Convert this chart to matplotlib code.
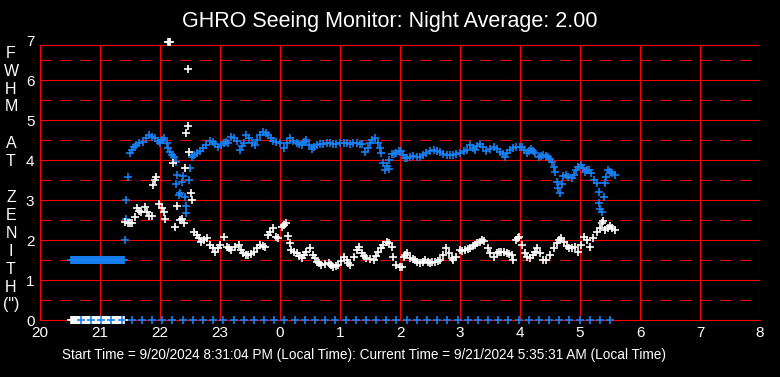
import matplotlib.pyplot as plt

plt.rcParams['font.family'] = ['Liberation Sans', 'DejaVu Sans']
plt.rcParams['lines.scale_dashes'] = False

# start-up readings (minutes after 20:00): blue sits at 1.5, white at 0
flat_min = [31, 32, 33, 34, 35, 36, 37, 38, 39, 40, 41, 42, 43, 44, 45, 46, 47, 48,
            49, 50, 51, 52, 53, 54, 55, 56, 57, 58, 59, 60, 61, 62, 63, 64, 65, 66,
            67, 68, 69, 70, 71, 72, 73, 74, 75, 76, 77, 78, 79, 80, 81, 82, 83, 84]
flat_blue = 1.5
flat_white = 0.0

# status marks along the bottom (minutes after 20:00)
zero_min = [41, 51, 61, 71, 82, 92, 102, 112, 122, 132, 143, 153, 163, 173,
            183, 194, 204, 214, 224, 234, 244, 255, 265, 275, 285, 295, 306,
            316, 326, 336, 346, 356, 367, 377, 387, 397, 407, 418, 428, 438,
            448, 458, 468, 479, 489, 499, 509, 519, 529, 540, 550, 560, 570]

# blue series (hour of night, value)
blue_t = [21.42, 21.43, 21.43, 21.47, 21.50, 21.53, 21.56, 21.60, 21.65, 21.72,
          21.77, 21.82, 21.87, 21.92, 21.96, 22.00, 22.04, 22.07, 22.11, 22.14,
          22.17, 22.20, 22.23, 22.27, 22.27, 22.28, 22.31, 22.33, 22.36, 22.39,
          22.42, 22.44, 22.44, 22.49, 22.50, 22.53, 22.57, 22.61, 22.66, 22.72,
          22.77, 22.83, 22.88, 22.92, 22.97, 23.02, 23.06, 23.10, 23.14, 23.19,
          23.23, 23.28, 23.33, 23.37, 23.40, 23.44, 23.48, 23.53, 23.58, 23.62,
          23.67, 23.71, 23.76, 23.80, 23.85, 23.89, 23.94, 24.00, 24.06, 24.11,
          24.17, 24.22, 24.28, 24.32, 24.36, 24.40, 24.44, 24.49, 24.53, 24.57,
          24.61, 24.67, 24.72, 24.78, 24.83, 24.89, 24.94, 25.00, 25.06, 25.11,
          25.17, 25.22, 25.28, 25.33, 25.36, 25.42, 25.47, 25.50, 25.53, 25.58,
          25.64, 25.67, 25.69, 25.72, 25.75, 25.78, 25.81, 25.82, 25.86, 25.90,
          25.94, 25.98, 26.01, 26.05, 26.08, 26.11, 26.16, 26.22, 26.28, 26.33,
          26.39, 26.44, 26.50, 26.56, 26.61, 26.67, 26.72, 26.78, 26.83, 26.89,
          26.94, 27.00, 27.06, 27.11, 27.17, 27.21, 27.25, 27.29, 27.33, 27.39,
          27.44, 27.50, 27.56, 27.61, 27.67, 27.71, 27.75, 27.79, 27.83, 27.89,
          27.94, 28.00, 28.03, 28.07, 28.11, 28.15, 28.19, 28.22, 28.25, 28.31,
          28.35, 28.39, 28.44, 28.47, 28.50, 28.53, 28.57, 28.58, 28.61, 28.64,
          28.67, 28.70, 28.72, 28.76, 28.80, 28.86, 28.90, 28.94, 28.97, 29.01,
          29.05, 29.08, 29.12, 29.15, 29.19, 29.23, 29.28, 29.31, 29.32, 29.34,
          29.37, 29.40, 29.42, 29.44, 29.47, 29.50, 29.53, 29.58]
blue_v = [2.00, 2.52, 3.00, 3.57, 4.17, 4.25, 4.33, 4.38, 4.42, 4.46,
          4.55, 4.62, 4.58, 4.54, 4.48, 4.43, 4.50, 4.54, 4.42, 4.30,
          4.21, 4.12, 4.08, 3.96, 3.40, 3.62, 3.12, 3.17, 3.46, 3.60,
          3.08, 2.67, 2.85, 3.50, 3.79, 4.07, 4.12, 4.17, 4.22, 4.29,
          4.38, 4.48, 4.44, 4.40, 4.33, 4.38, 4.43, 4.45, 4.42, 4.58,
          4.55, 4.48, 4.25, 4.35, 4.42, 4.62, 4.55, 4.42, 4.38, 4.50,
          4.62, 4.71, 4.68, 4.62, 4.55, 4.48, 4.44, 4.42, 4.30, 4.42,
          4.54, 4.48, 4.42, 4.40, 4.38, 4.45, 4.50, 4.38, 4.27, 4.32,
          4.38, 4.40, 4.40, 4.42, 4.42, 4.40, 4.40, 4.42, 4.43, 4.42,
          4.40, 4.42, 4.42, 4.40, 4.40, 4.21, 4.29, 4.42, 4.50, 4.54,
          4.42, 4.30, 4.18, 3.92, 3.75, 3.85, 3.77, 4.00, 4.14, 4.15,
          4.17, 4.22, 4.23, 4.12, 4.04, 4.04, 4.08, 4.10, 4.08, 4.07,
          4.12, 4.17, 4.22, 4.25, 4.22, 4.21, 4.16, 4.12, 4.12, 4.12,
          4.15, 4.17, 4.22, 4.25, 4.38, 4.30, 4.25, 4.35, 4.40, 4.32,
          4.23, 4.28, 4.33, 4.28, 4.21, 4.15, 4.08, 4.18, 4.25, 4.30,
          4.33, 4.33, 4.32, 4.25, 4.17, 4.22, 4.27, 4.22, 4.17, 4.07,
          4.10, 4.12, 4.10, 4.08, 4.02, 3.96, 3.83, 3.71, 3.46, 3.29,
          3.17, 3.40, 3.60, 3.62, 3.58, 3.54, 3.62, 3.76, 3.83, 3.88,
          3.80, 3.71, 3.76, 3.75, 3.67, 3.50, 3.42, 3.21, 2.92, 2.78,
          2.71, 3.08, 3.42, 3.57, 3.75, 3.70, 3.67, 3.62]

# white series (hour of night, value)
white_t = [21.42, 21.46, 21.50, 21.53, 21.58, 21.61, 21.65, 21.69, 21.75, 21.78,
           21.81, 21.86, 21.89, 21.92, 21.94, 21.99, 22.03, 22.06, 22.09, 22.13,
           22.15, 22.17, 22.22, 22.25, 22.29, 22.33, 22.36, 22.40, 22.42, 22.44,
           22.46, 22.47, 22.49, 22.51, 22.53, 22.57, 22.61, 22.65, 22.69, 22.74,
           22.78, 22.83, 22.88, 22.92, 22.96, 23.00, 23.06, 23.11, 23.15, 23.19,
           23.25, 23.31, 23.35, 23.39, 23.43, 23.47, 23.52, 23.56, 23.62, 23.67,
           23.71, 23.75, 23.80, 23.84, 23.88, 23.94, 23.97, 24.03, 24.06, 24.10,
           24.14, 24.17, 24.19, 24.24, 24.28, 24.32, 24.36, 24.40, 24.44, 24.50,
           24.55, 24.58, 24.61, 24.65, 24.69, 24.75, 24.81, 24.85, 24.89, 24.93,
           24.97, 25.02, 25.06, 25.11, 25.14, 25.17, 25.23, 25.28, 25.31, 25.36,
           25.40, 25.44, 25.50, 25.56, 25.60, 25.64, 25.68, 25.72, 25.78, 25.81,
           25.86, 25.89, 25.94, 26.00, 26.03, 26.06, 26.08, 26.11, 26.17, 26.21,
           26.25, 26.29, 26.33, 26.38, 26.42, 26.46, 26.50, 26.54, 26.58, 26.63,
           26.67, 26.72, 26.76, 26.82, 26.86, 26.89, 26.94, 27.00, 27.04, 27.08,
           27.13, 27.17, 27.21, 27.25, 27.29, 27.33, 27.37, 27.40, 27.46, 27.50,
           27.56, 27.61, 27.65, 27.69, 27.74, 27.78, 27.82, 27.86, 27.89, 27.93,
           27.96, 27.99, 28.03, 28.08, 28.12, 28.17, 28.21, 28.25, 28.29, 28.33,
           28.39, 28.44, 28.50, 28.56, 28.61, 28.65, 28.69, 28.74, 28.78, 28.82,
           28.86, 28.92, 28.97, 29.01, 29.06, 29.11, 29.17, 29.22, 29.28, 29.33,
           29.36, 29.39, 29.42, 29.47, 29.50, 29.54, 29.58]
white_v = [2.46, 2.42, 2.43, 2.42, 2.57, 2.79, 2.73, 2.71, 2.83, 2.70,
           2.60, 2.60, 3.38, 3.50, 3.58, 2.90, 2.80, 2.71, 2.52, 6.95,
           6.95, 6.95, 3.92, 2.33, 2.85, 2.50, 2.52, 2.42, 3.79, 4.67,
           6.27, 4.85, 4.21, 3.17, 3.00, 2.21, 2.12, 2.05, 1.96, 2.00,
           2.04, 1.88, 1.80, 1.71, 1.80, 1.88, 2.08, 1.83, 1.80, 1.75,
           1.82, 1.88, 1.75, 1.67, 1.62, 1.62, 1.66, 1.71, 1.80, 1.88,
           1.85, 1.83, 2.12, 2.20, 2.29, 2.08, 2.04, 2.33, 2.38, 2.43,
           2.10, 1.92, 1.75, 1.70, 1.67, 1.60, 1.54, 1.62, 1.71, 1.79,
           1.62, 1.55, 1.46, 1.42, 1.38, 1.40, 1.43, 1.38, 1.33, 1.35,
           1.38, 1.48, 1.58, 1.50, 1.42, 1.38, 1.58, 1.75, 1.83, 1.67,
           1.60, 1.54, 1.52, 1.50, 1.60, 1.71, 1.80, 1.88, 1.96, 1.93,
           1.83, 1.58, 1.38, 1.33, 1.33, 1.58, 1.62, 1.67, 1.54, 1.52,
           1.50, 1.45, 1.42, 1.46, 1.50, 1.45, 1.42, 1.44, 1.46, 1.48,
           1.50, 1.62, 1.79, 1.67, 1.56, 1.50, 1.58, 1.75, 1.72, 1.75,
           1.78, 1.79, 1.84, 1.88, 1.92, 1.96, 2.00, 1.98, 1.79, 1.67,
           1.57, 1.67, 1.70, 1.71, 1.70, 1.67, 1.65, 1.62, 1.50, 2.00,
           2.05, 2.08, 1.88, 1.67, 1.58, 1.54, 1.62, 1.71, 1.79, 1.67,
           1.50, 1.50, 1.62, 1.79, 1.92, 2.00, 2.04, 1.95, 1.85, 1.80,
           1.79, 1.82, 1.71, 1.88, 2.08, 2.00, 1.83, 2.04, 2.21, 2.29,
           2.42, 2.48, 2.25, 2.29, 2.35, 2.29, 2.25]

hour_ticks = list(range(20, 33))
hour_labels = ['20', '21', '22', '23', '0', '1', '2', '3', '4', '5', '6', '7', '8']
ylabel_chars = ['F', 'W', 'H', 'M', '', 'A', 'T', '', 'Z', 'E', 'N', 'I', 'T', 'H', '(")']

title = 'GHRO Seeing Monitor: Night Average: 2.00'
footer = ('Start Time = 9/20/2024 8:31:04 PM (Local Time): '
          'Current Time = 9/21/2024 5:35:31 AM (Local Time)')

red = '#ff0000'
blue = '#1780f2'
W, H = 780, 377

fig = plt.figure(figsize=(W / 100, H / 100), dpi=100, facecolor='black')
ax = fig.add_axes([40 / W, 1 - 320 / H, 720 / W, 280 / H])
ax.set_facecolor('black')
ax.set_xlim(20, 32)
ax.set_ylim(0, 7)
for s in ax.spines.values():
    s.set_visible(False)

top = 6.875  # the frame stops a little below the 7 label
lw = 0.8
for y in range(1, 7):
    ax.axhline(y, color=red, lw=lw, zorder=1)
for y in [0.5, 1.5, 2.5, 3.5, 4.5, 5.5, 6.5]:
    ax.axhline(y, color=red, lw=lw, ls=(0, (7.7, 6.7)), zorder=1)
ax.axhline(0, color=red, lw=lw, zorder=1, clip_on=False)
ax.axhline(top, color=red, lw=lw, zorder=1)
ax.vlines(hour_ticks, 0, top, color=red, lw=lw, zorder=1)

mk = dict(marker='+', ls='none', ms=5.2, mew=1.2, clip_on=False, zorder=3)
flat_h = [20 + m / 60 for m in flat_min]
zero_h = [20 + m / 60 for m in zero_min]
ax.plot(flat_h, [flat_blue] * len(flat_h), color=blue, **mk)
ax.plot(flat_h, [flat_white] * len(flat_h), color='white', **mk)
ax.plot(zero_h, [0] * len(zero_h), color=blue, **mk)
ax.plot(blue_t, blue_v, color=blue, **mk)
ax.plot(white_t, white_v, color='white', **mk)

ax.set_xticks(hour_ticks)
ax.set_xticklabels(hour_labels)
ax.set_yticks(range(0, 8))
ax.tick_params(colors='white', length=0, labelsize=11)
ax.tick_params(axis='x', pad=4)
ax.tick_params(axis='y', pad=4)

for i, ch in enumerate(ylabel_chars):
    fig.text(11 / W, 1 - (53 + 18 * i) / H, ch, color='white', fontsize=11.5,
             ha='center', va='center')

fig.text(0.5, 1 - 21 / H, title, color='white', fontsize=15.5, ha='center', va='center')
fig.text(62 / W, 1 - 355 / H, footer, color='white', fontsize=9.8, ha='left', va='center')

fig.savefig('out.png', dpi=100, facecolor='black')
